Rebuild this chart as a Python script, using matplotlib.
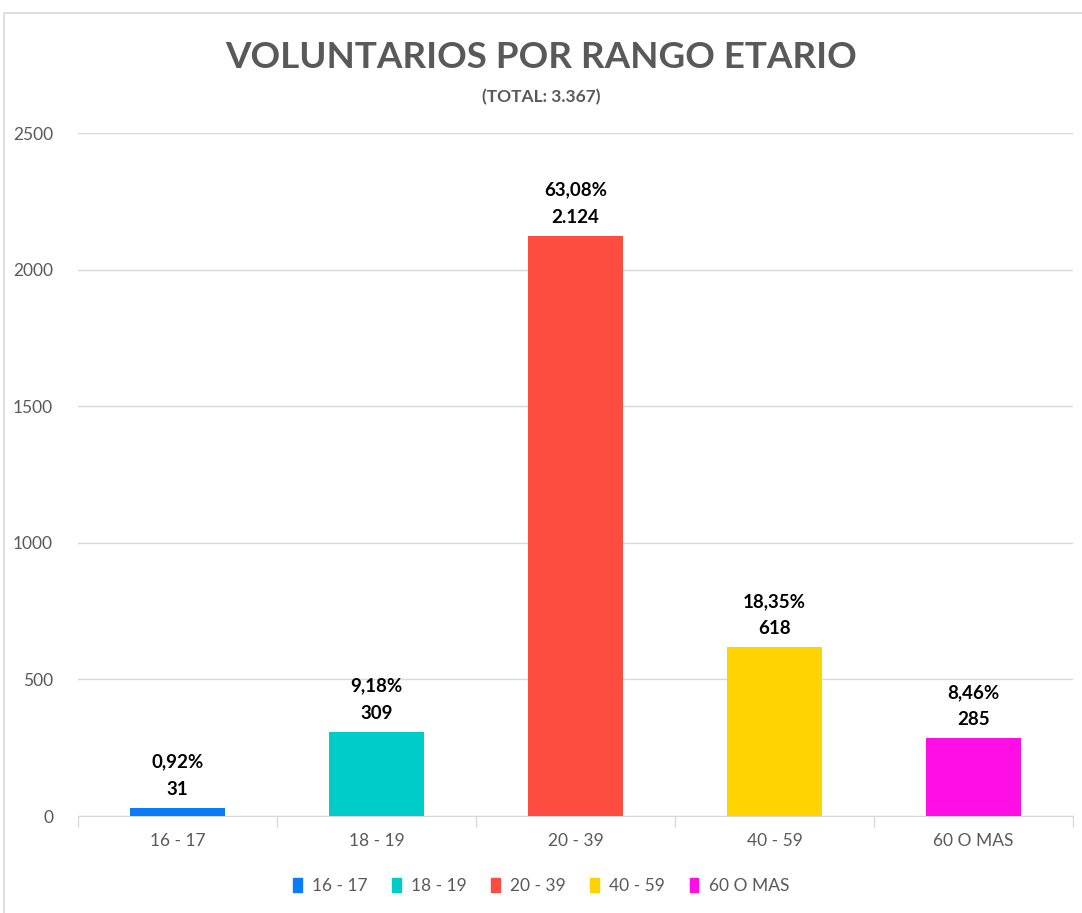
import matplotlib
matplotlib.use("Agg")
import matplotlib.pyplot as plt
from matplotlib.patches import Rectangle
import numpy as np

plt.rcParams['font.family'] = ['Lato', 'DejaVu Sans']

categories = ['16 - 17', '18 - 19', '20 - 39', '40 - 59', '60 O MAS']
values = [31, 309, 2124, 618, 285]
value_labels = ['31', '309', '2.124', '618', '285']
pct_labels = ['0,92%', '9,18%', '63,08%', '18,35%', '8,46%']
colors = ['#0a7cf5', '#00ccc9', '#ff4c40', '#ffd200', '#ff0ee6']
yticks = [0, 500, 1000, 1500, 2000, 2500]

fig = plt.figure(figsize=(10.82, 9.13), dpi=100)
# chart frame border
fig.patches.append(Rectangle((0.004, -0.01), 1.2, 0.996, transform=fig.transFigure,
                             fill=False, edgecolor='#d9d9d9', linewidth=1.2))

ax = fig.add_axes([78 / 1082, 1 - 816 / 913, (1073 - 78) / 1082, (816 - 133) / 913])
x = np.arange(len(categories))
bars = ax.bar(x, values, width=0.48, color=colors, zorder=3)

ax.set_xlim(-0.5, len(categories) - 0.5)
ax.set_ylim(0, 2500)
ax.set_yticks(yticks)
ax.set_yticklabels([str(t) for t in yticks], color='#595959', fontsize=12.5)
ax.yaxis.grid(True, color='#d9d9d9', linewidth=1, zorder=0)
ax.tick_params(axis='y', length=0, pad=18)

ax.set_xticks(x)
ax.set_xticklabels(categories, color='#595959', fontsize=12.5)
ax.tick_params(axis='x', length=0, pad=12)
ax.set_xticks(np.arange(-0.5, len(categories)), minor=True)
ax.tick_params(axis='x', which='minor', length=8, color='#d9d9d9', width=1)

for s in ['top', 'right', 'left']:
    ax.spines[s].set_visible(False)
ax.spines['bottom'].set_color('#d9d9d9')

for xi, v, p, lbl in zip(x, values, pct_labels, value_labels):
    ax.annotate(p + '\n' + lbl, (xi, v), xytext=(0, 7), textcoords='offset points',
                ha='center', va='bottom', fontsize=13.5, fontweight='bold',
                color='black', linespacing=1.75)

fig.text(0.5, 1 - 58 / 913, 'VOLUNTARIOS POR RANGO ETARIO', ha='center', va='center',
         fontsize=26.5, fontweight='bold', color='#595959')
fig.text(0.5, 1 - 97 / 913, '(TOTAL: 3.367)', ha='center', va='center',
         fontsize=12.5, fontweight='bold', color='#595959')

handles = [Rectangle((0, 0), 1, 1, color=c) for c in colors]
fig.legend(handles, categories, loc='center', bbox_to_anchor=(0.5, 1 - 886 / 913),
           ncol=5, frameon=False, fontsize=12.5, handlelength=0.5, handleheight=0.8,
           handletextpad=0.6, columnspacing=1.4, labelcolor='#595959')

fig.savefig('out.png', dpi=100)
